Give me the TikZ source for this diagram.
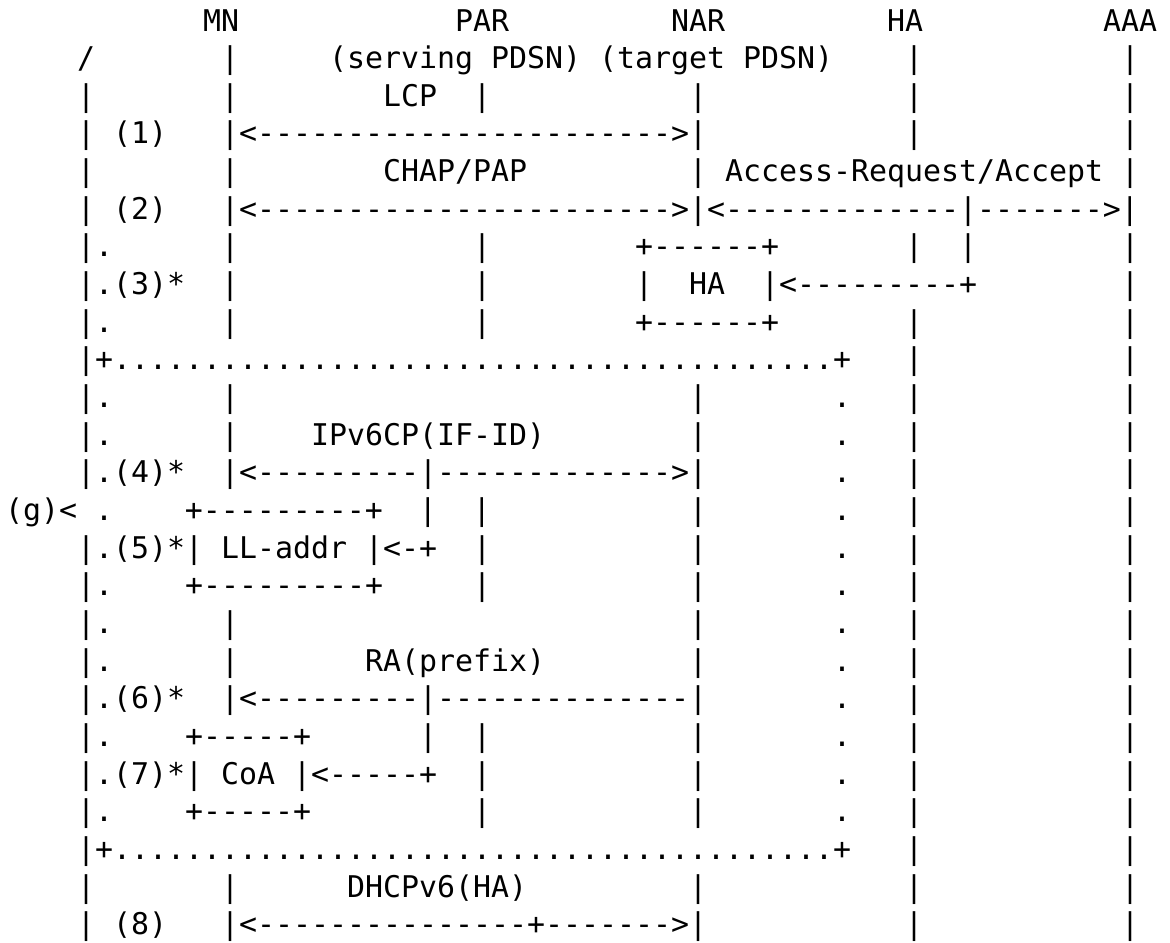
\documentclass[tikz,border=0pt]{standalone}
\usepackage{xcolor}
\usepackage{fontspec}
\setmonofont{DejaVu Sans Mono}
\usepackage{tikz}
\usetikzlibrary{positioning}
\ExplSyntaxOn
\cs_new:Npn \rep #1#2 { \prg_replicate:nn {#1} {#2} }
\ExplSyntaxOff
\newcommand\gap[1]{\rep{#1}{\ }}
\colorlet{ascii-ink}{black}
\tikzset{
    ascii/.style = {anchor=base west, inner sep=0pt, outer sep=0pt,
        text=ascii-ink, font=\ttfamily\fontsize{14.95}{18}\selectfont\frenchspacing},
}

\begin{document}
\begin{tikzpicture}[x=9pt,y=18.83pt]

\path[use as bounding box, fill=white] (-2.5pt,15.5pt) rectangle (582.5pt,-455.5pt);

% header and lifelines
\node[ascii] (row1)  at (0,0)   {\gap{11}MN\gap{12}PAR\gap{9}NAR\gap{9}HA\gap{10}AAA};
\node[ascii] (row2)  at (0,-1)  {\gap{4}/\gap{7}|\gap{5}(serving PDSN) (target PDSN)\gap{4}|\gap{11}|};
\node[ascii] (row3)  at (0,-2)  {\gap{4}|\gap{7}|\gap{8}LCP\gap{2}|\gap{11}|\gap{11}|\gap{11}|};
\node[ascii] (row4)  at (0,-3)  {\gap{4}| (1)\gap{3}|<\rep{23}{-}>|\gap{11}|\gap{11}|};
\node[ascii] (row5)  at (0,-4)  {\gap{4}|\gap{7}|\gap{8}CHAP/PAP\gap{9}| Access-Request/Accept |};
\node[ascii] (row6)  at (0,-5)  {\gap{4}| (2)\gap{3}|<\rep{23}{-}>|<\rep{13}{-}|\rep{7}{-}>|};

% HA box
\node[ascii] (row7)  at (0,-6)  {\gap{4}|.\gap{6}|\gap{13}|\gap{8}+\rep{6}{-}+\gap{7}|\gap{2}|\gap{8}|};
\node[ascii] (row8)  at (0,-7)  {\gap{4}|.(3)*\gap{2}|\gap{13}|\gap{8}|\gap{2}HA\gap{2}|<\rep{9}{-}+\gap{8}|};
\node[ascii] (row9)  at (0,-8)  {\gap{4}|.\gap{6}|\gap{13}|\gap{8}+\rep{6}{-}+\gap{7}|\gap{11}|};

% dotted block (g)
\node[ascii] (row10) at (0,-9)  {\gap{4}|+\rep{40}{.}+\gap{3}|\gap{11}|};
\node[ascii] (row11) at (0,-10) {\gap{4}|.\gap{6}|\gap{25}|\gap{7}.\gap{3}|\gap{11}|};
\node[ascii] (row12) at (0,-11) {\gap{4}|.\gap{6}|\gap{4}IPv6CP(IF-ID)\gap{8}|\gap{7}.\gap{3}|\gap{11}|};
\node[ascii] (row13) at (0,-12) {\gap{4}|.(4)*\gap{2}|<\rep{9}{-}|\rep{13}{-}>|\gap{7}.\gap{3}|\gap{11}|};
\node[ascii] (row14) at (0,-13) {(g)< .\gap{4}+\rep{9}{-}+\gap{2}|\gap{2}|\gap{11}|\gap{7}.\gap{3}|\gap{11}|};
\node[ascii] (row15) at (0,-14) {\gap{4}|.(5)*| LL-addr |<-+\gap{2}|\gap{11}|\gap{7}.\gap{3}|\gap{11}|};
\node[ascii] (row16) at (0,-15) {\gap{4}|.\gap{4}+\rep{9}{-}+\gap{5}|\gap{11}|\gap{7}.\gap{3}|\gap{11}|};
\node[ascii] (row17) at (0,-16) {\gap{4}|.\gap{6}|\gap{25}|\gap{7}.\gap{3}|\gap{11}|};
\node[ascii] (row18) at (0,-17) {\gap{4}|.\gap{6}|\gap{7}RA(prefix)\gap{8}|\gap{7}.\gap{3}|\gap{11}|};
\node[ascii] (row19) at (0,-18) {\gap{4}|.(6)*\gap{2}|<\rep{9}{-}|\rep{14}{-}|\gap{7}.\gap{3}|\gap{11}|};
\node[ascii] (row20) at (0,-19) {\gap{4}|.\gap{4}+\rep{5}{-}+\gap{6}|\gap{2}|\gap{11}|\gap{7}.\gap{3}|\gap{11}|};
\node[ascii] (row21) at (0,-20) {\gap{4}|.(7)*| CoA |<\rep{5}{-}+\gap{2}|\gap{11}|\gap{7}.\gap{3}|\gap{11}|};
\node[ascii] (row22) at (0,-21) {\gap{4}|.\gap{4}+\rep{5}{-}+\gap{9}|\gap{11}|\gap{7}.\gap{3}|\gap{11}|};
\node[ascii] (row23) at (0,-22) {\gap{4}|+\rep{40}{.}+\gap{3}|\gap{11}|};

% DHCPv6
\node[ascii] (row24) at (0,-23) {\gap{4}|\gap{7}|\gap{6}DHCPv6(HA)\gap{9}|\gap{11}|\gap{11}|};
\node[ascii] (row25) at (0,-24) {\gap{4}| (8)\gap{3}|<\rep{15}{-}+\rep{7}{-}>|\gap{11}|\gap{11}|};

\end{tikzpicture}
\end{document}
